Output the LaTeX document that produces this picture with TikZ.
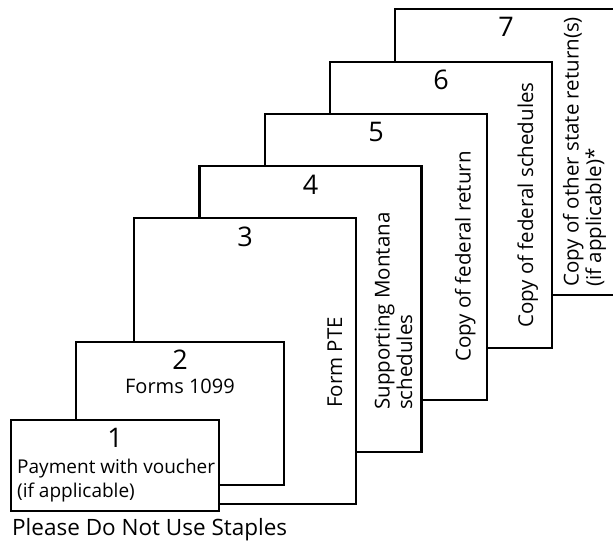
\documentclass[tikz,border=0pt]{standalone}
\usepackage{fontspec}
\setmainfont{Open Sans}
\begin{document}
\begin{tikzpicture}[x=1pt,y=-1pt,
  box/.style={draw=black, fill=white, line width=2.8pt, inner sep=0pt, outer sep=0pt, minimum width=222pt, minimum height=286pt},
  num/.style={font=\fontsize{27}{30}\selectfont, inner sep=0pt, anchor=base},
  lbl/.style={font=\fontsize{20}{24}\selectfont, inner sep=0pt, align=left},
  vlbl/.style={font=\fontsize{20.5}{22.5}\selectfont, inner sep=0pt, align=left, rotate=90, anchor=base west},
]
\clip (0,0) rectangle (613,544);
\fill[white] (0,0) rectangle (613,544);
% boxes, back to front
\node[box] (b7) at (506,152) {};
\node[box] (b6) at (441,205) {};
\node[box] (b5) at (376,257) {};
\node[box] (b4) at (310.5,309) {};
\node[box] (b3) at (245,361) {};
\node[box, minimum width=208pt, minimum height=143pt] (b2) at (180,413.5) {};
\node[box, minimum width=208pt, minimum height=91pt] (b1) at (115,465.5) {};
% numbers
\node[num] (n1) at (115,447) {1};
\node[num] (n2) at (180,369) {2};
\node[num] (n3) at (245,246) {3};
\node[num] (n4) at (310.5,194) {4};
\node[num] (n5) at (376,141) {5};
\node[num] (n6) at (441,89) {6};
\node[num] (n7) at (506,36) {7};
% labels (multi-line nodes: base anchor is the last line)
\node[lbl, anchor=base west, font=\fontsize{19}{24}\selectfont] (t1) at (17,497) {Payment with voucher\\(if applicable)};
\node[lbl, anchor=base] (t2) at (180,393) {Forms 1099};
\node[vlbl] (t3) at (342,408) {Form PTE};
\node[vlbl] (t4) at (412,410) {Supporting Montana\\schedules};
\node[vlbl] (t5) at (470.5,362) {Copy of federal return};
\node[vlbl] (t6) at (533,328) {Copy of federal schedules};
\node[vlbl] (t7) at (601,287) {Copy of other state return(s)\\(if applicable)*};
\node[lbl, anchor=base west, font=\fontsize{22.5}{26}\selectfont] (note) at (12,535) {Please Do Not Use Staples};
\end{tikzpicture}
\end{document}
